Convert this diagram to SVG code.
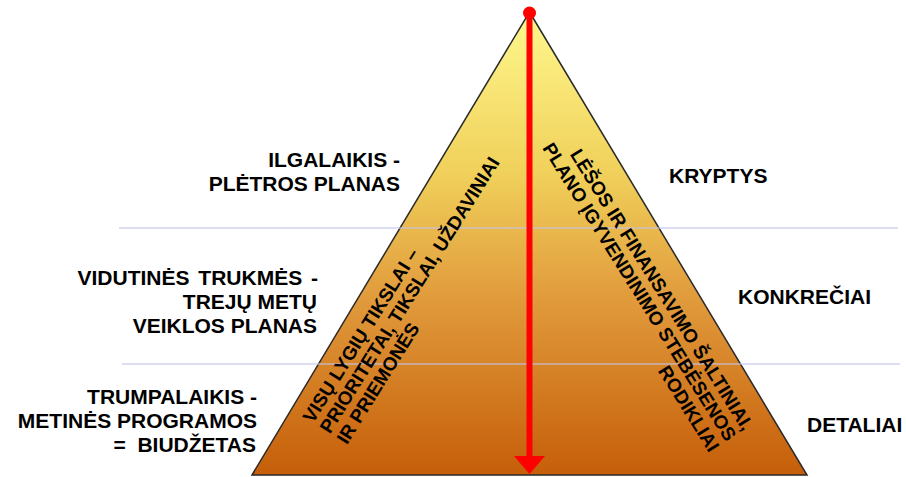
<svg xmlns="http://www.w3.org/2000/svg" width="906" height="477" viewBox="0 0 906 477">
<style>
  .t{font-family:"Liberation Sans",Arial,sans-serif;font-weight:bold;font-size:21px;fill:#000}
  .r{font-family:"Liberation Sans",Arial,sans-serif;font-weight:bold;font-size:19px;fill:#000}
  .sep{stroke:#c4c4e8;stroke-opacity:0.75;stroke-width:1.5;fill:none}
</style>
<defs>
  <linearGradient id="pyr" gradientUnits="userSpaceOnUse" x1="0" y1="12" x2="0" y2="475">
    <stop offset="0" stop-color="#fff88e"/>
    <stop offset="0.35" stop-color="#f0d05a"/>
    <stop offset="0.6" stop-color="#e29e3e"/>
    <stop offset="1" stop-color="#c65e0a"/>
  </linearGradient>
</defs>
<rect width="906" height="477" fill="#fff"/>
<g id="pyramid">
  <polygon points="529.5,12 807,475 252,475" fill="url(#pyr)" stroke="#2a2a2a" stroke-width="1.5" stroke-linejoin="miter"/>
</g>
<g id="separators">
  <line class="sep" x1="119" y1="228" x2="898" y2="228"/>
  <line class="sep" x1="122" y1="364" x2="900" y2="364"/>
</g>
<g id="left-labels">
  <g id="level-long">
    <text class="t" x="400" y="167" text-anchor="end">ILGALAIKIS -</text>
    <text class="t" x="400" y="191" text-anchor="end">PLĖTROS PLANAS</text>
  </g>
  <g id="level-mid">
    <text class="t" x="318" y="285" text-anchor="end" word-spacing="3">VIDUTINĖS TRUKMĖS -</text>
    <text class="t" x="317" y="309" text-anchor="end">TREJŲ METŲ</text>
    <text class="t" x="317" y="333" text-anchor="end">VEIKLOS PLANAS</text>
  </g>
  <g id="level-short">
    <text class="t" x="257" y="404" text-anchor="end">TRUMPALAIKIS -</text>
    <text class="t" x="257" y="428" text-anchor="end">METINĖS PROGRAMOS</text>
    <text class="t" x="256" y="452" text-anchor="end" xml:space="preserve">=  BIUDŽETAS</text>
  </g>
</g>
<g id="right-labels">
  <text id="kryptys" class="t" x="669" y="183">KRYPTYS</text>
  <text id="konkreciai" class="t" x="738" y="304">KONKREČIAI</text>
  <text id="detaliai" class="t" x="807" y="432">DETALIAI</text>
</g>
<g id="goals-text" transform="translate(313,424) rotate(-58)">
  <text class="r" x="0" y="0">VISŲ LYGIŲ TIKSLAI –</text>
  <text class="r" x="0" y="20">PRIORITETAI, TIKSLAI, UŽDAVINIAI</text>
  <text class="r" x="0" y="40">IR PRIEMONĖS</text>
</g>
<g id="funds-text" transform="translate(743,432) rotate(58)">
  <text class="r" x="0" y="0" text-anchor="end">LĖŠOS IR FINANSAVIMO ŠALTINIAI,</text>
  <text class="r" x="0" y="20" text-anchor="end">PLANO ĮGYVENDINIMO STEBĖSENOS</text>
  <text class="r" x="0" y="40" text-anchor="end">RODIKLIAI</text>
</g>
<g id="connectors">
  <circle cx="529.5" cy="13" r="6.5" fill="#ff0000"/>
  <line x1="529.5" y1="13" x2="529.5" y2="458" stroke="#ff0000" stroke-width="6"/>
  <polygon points="514,456 545,456 529.5,474" fill="#ff0000"/>
</g>
</svg>
